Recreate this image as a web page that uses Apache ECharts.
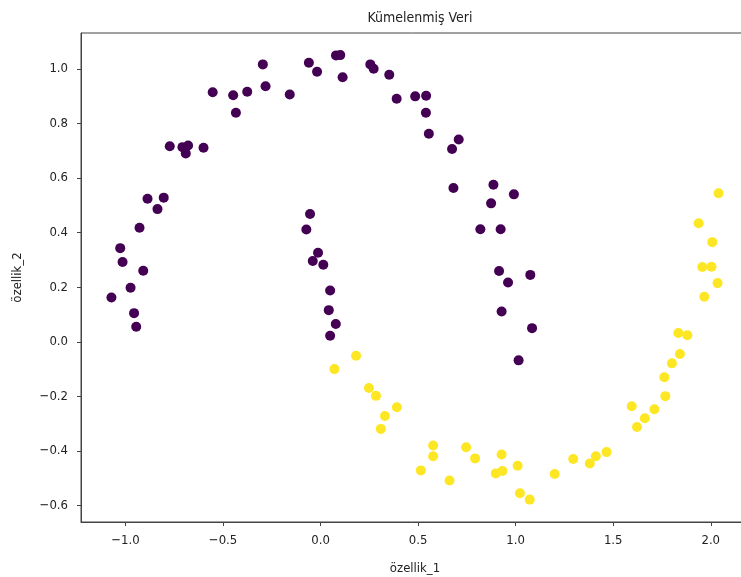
<!DOCTYPE html>
<html>
<head>
<meta charset="utf-8">
<script src="https://cdn.jsdelivr.net/npm/echarts@6/dist/echarts.min.js"></script>
<style>
html,body{margin:0;padding:0;background:#fff;}
#chart{width:741px;height:577px;}
</style>
</head>
<body>
<div id="chart"></div>
<script>
const titleText = "Kümelenmiş Veri";
const xName = "özellik_1";
const yName = "özellik_2";
const xTicks = [-1.0, -0.5, 0.0, 0.5, 1.0, 1.5, 2.0];
const yTicks = [-0.6, -0.4, -0.2, 0.0, 0.2, 0.4, 0.6, 0.8, 1.0];

// cluster 0 (purple)
const cluster0X = [-0.296,-0.060,-0.018,-0.553,-0.448,-0.376,-0.282,-0.158,-0.434,-0.773,-0.708,-0.679,-0.691,-0.600,-0.887,-0.804,
  -0.836,-0.928,-1.027,-1.015,-0.909,-0.974,-1.072,-0.956,-0.945,
  0.079,0.101,0.113,0.255,0.272,0.352,0.390,0.485,0.541,0.540,0.555,0.708,0.674,0.681,0.886,0.991,0.874,
  -0.054,-0.073,-0.013,-0.040,0.014,0.049,0.042,0.078,0.049,0.819,0.923,0.915,0.961,1.075,0.928,1.084,1.015];
const cluster0Y = [1.016,1.022,0.989,0.914,0.903,0.916,0.936,0.906,0.839,0.716,0.713,0.719,0.690,0.711,0.524,0.528,
  0.486,0.418,0.343,0.292,0.260,0.198,0.162,0.105,0.055,
  1.049,1.050,0.969,1.016,1.000,0.978,0.890,0.899,0.901,0.839,0.762,0.741,0.706,0.563,0.575,0.540,0.507,
  0.468,0.411,0.326,0.296,0.282,0.188,0.116,0.065,0.022,0.412,0.412,0.259,0.217,0.245,0.111,0.050,-0.068];

// cluster 1 (yellow)
const cluster1X = [0.182,0.071,0.248,0.284,0.391,0.330,0.309,0.577,0.577,0.514,0.661,0.746,0.792,0.928,0.932,0.898,1.010,1.022,1.072,
  1.200,1.295,1.380,1.411,1.466,1.595,1.622,1.662,1.711,1.767,1.762,1.801,1.842,1.834,1.880,1.967,2.035,1.957,2.004,2.008,1.938,2.040];
const cluster1Y = [-0.051,-0.100,-0.169,-0.198,-0.240,-0.272,-0.319,-0.380,-0.419,-0.471,-0.508,-0.386,-0.427,-0.413,-0.473,-0.482,-0.454,-0.555,-0.578,
  -0.484,-0.429,-0.446,-0.419,-0.404,-0.236,-0.312,-0.280,-0.247,-0.199,-0.130,-0.079,-0.045,0.032,0.024,0.165,0.215,0.274,0.275,0.365,0.434,0.544];

const FONT = "'DejaVu Sans Condensed','DejaVu Sans',sans-serif";
const fmt = v => (v < 0 ? '\u2212' : '') + Math.abs(v).toFixed(1);

const chart = echarts.init(document.getElementById('chart'), null, {renderer:'canvas'});
chart.setOption({
  backgroundColor: '#ffffff',
  animation: false,
  title: {
    text: titleText, left: 415, top: 6, textAlign: 'center',
    textStyle: {fontFamily: FONT, fontSize: 14, fontWeight: 'normal', color: '#222'}
  },
  grid: {
    left: 81, top: 33, width: 668, height: 489,
    outerBoundsMode: 'none', containLabel: false,
    show: true, borderColor: '#444', borderWidth: 1, backgroundColor: 'transparent'
  },
  xAxis: {
    type: 'value', min: -1.228, max: 2.196,
    name: xName, nameLocation: 'middle', nameGap: 40,
    nameTextStyle: {fontFamily: FONT, fontSize: 13, color: '#222'},
    axisLine: {show: true, onZero: false, lineStyle: {color: '#444', width: 1}},
    axisTick: {show: true, length: 4, customValues: xTicks, lineStyle: {color: '#444'}},
    axisLabel: {customValues: xTicks, formatter: fmt, margin: 12,
      fontFamily: FONT, fontSize: 13, color: '#222'},
    splitLine: {show: false}
  },
  yAxis: {
    type: 'value', min: -0.660, max: 1.131,
    name: yName, nameLocation: 'middle', nameGap: 57, nameRotate: 90,
    nameTextStyle: {fontFamily: FONT, fontSize: 13, color: '#222'},
    axisLine: {show: true, onZero: false, lineStyle: {color: '#444', width: 1}},
    axisTick: {show: true, length: 4, customValues: yTicks, lineStyle: {color: '#444'}},
    axisLabel: {customValues: yTicks, formatter: fmt, margin: 13,
      fontFamily: FONT, fontSize: 13, color: '#222'},
    splitLine: {show: false}
  },
  series: [
    {
      type: 'scatter', symbolSize: 10,
      itemStyle: {color: '#440154', opacity: 1},
      data: cluster0X.map((x, i) => [x, cluster0Y[i]])
    },
    {
      type: 'scatter', symbolSize: 10,
      itemStyle: {color: '#fde725', opacity: 1},
      data: cluster1X.map((x, i) => [x, cluster1Y[i]])
    }
  ]
});
</script>
</body>
</html>
